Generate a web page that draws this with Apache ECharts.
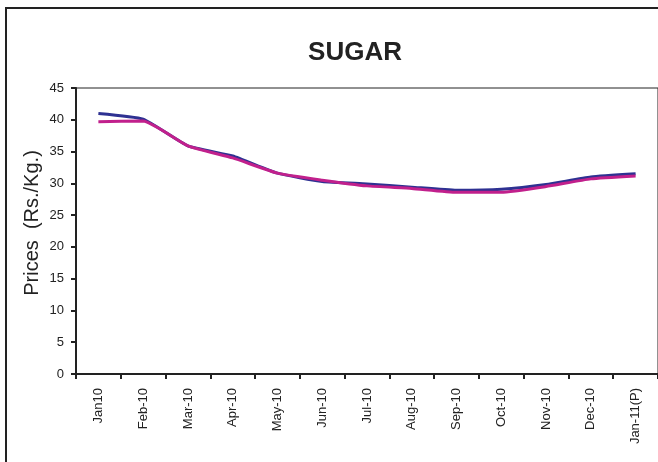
<!DOCTYPE html>
<html>
<head>
<meta charset="utf-8">
<script src="https://cdn.jsdelivr.net/npm/echarts@6/dist/echarts.min.js"></script>
<style>html,body{margin:0;padding:0;background:#fff}#c{width:658px;height:462px}</style>
</head>
<body>
<div id="c"></div>
<script>
var categories = ['Jan10','Feb-10','Mar-10','Apr-10','May-10','Jun-10','Jul-10','Aug-10','Sep-10','Oct-10','Nov-10','Dec-10','Jan-11(P)'];
var seriesA = [41.0, 40.1, 35.9, 34.3, 31.6, 30.3, 29.9, 29.4, 28.9, 29.05, 29.8, 31.0, 31.5];
var seriesB = [39.7, 39.8, 35.9, 34.0, 31.6, 30.5, 29.6, 29.2, 28.6, 28.6, 29.5, 30.7, 31.15];
var yTicks = {min: 0, max: 45, interval: 5};

var chart = echarts.init(document.getElementById('c'), null, {renderer: 'canvas'});
chart.setOption({
  animation: false,
  backgroundColor: '#fff',
  graphic: [{
    type: 'rect', silent: true,
    shape: {x: 6, y: 8, width: 700, height: 500},
    style: {fill: 'none', stroke: '#222', lineWidth: 2}
  }],
  title: {
    text: 'SUGAR', left: 350, top: 35, textAlign: 'center',
    textStyle: {fontFamily: 'Liberation Sans, Arial', fontWeight: 'bold', fontSize: 26, color: '#222'}
  },
  grid: {left: 76, top: 88, width: 585, height: 286, show: true, borderColor: '#222', borderWidth: 1, backgroundColor: 'transparent'},
  xAxis: {
    type: 'category', data: categories, boundaryGap: true,
    axisLine: {lineStyle: {color: '#222', width: 2}},
    axisTick: {show: true, length: 5, lineStyle: {color: '#222', width: 2}},
    axisLabel: {rotate: 90, fontSize: 13, color: '#222', fontFamily: 'Liberation Sans, Arial', margin: 14, interval: 0},
    splitLine: {show: false}
  },
  yAxis: {
    type: 'value', min: yTicks.min, max: yTicks.max, interval: yTicks.interval,
    name: 'Prices  (Rs./Kg.)', nameLocation: 'middle', nameGap: 34, nameRotate: 90, nameMoveOverlap: false,
    nameTextStyle: {fontSize: 20, color: '#222', fontFamily: 'Liberation Sans, Arial', padding: [0, 0, 0, 16]},
    axisLine: {show: true, lineStyle: {color: '#222', width: 2}},
    axisTick: {show: true, length: 5, lineStyle: {color: '#222', width: 2}},
    axisLabel: {fontSize: 13, color: '#222', fontFamily: 'Liberation Sans, Arial', margin: 12},
    splitLine: {show: false}
  },
  series: [
    {type: 'line', data: seriesA, smooth: 0.15, showSymbol: false, lineStyle: {color: '#2E3192', width: 3}, itemStyle: {color: '#2E3192'}},
    {type: 'line', data: seriesB, smooth: 0.15, showSymbol: false, lineStyle: {color: '#C1208C', width: 3}, itemStyle: {color: '#C1208C'}}
  ]
});
</script>
</body>
</html>
